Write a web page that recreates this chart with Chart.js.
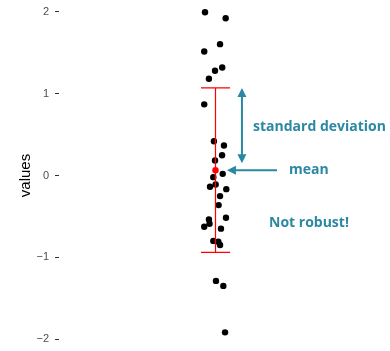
<!DOCTYPE html>
<html>
<head>
<meta charset="utf-8">
<script src="https://cdn.jsdelivr.net/npm/chart.js@4"></script>
<style>
  html, body { margin: 0; padding: 0; background: #fff; }
  #wrap { width: 390px; height: 351px; }
</style>
</head>
<body>
<div id="wrap"><canvas id="c"></canvas></div>
<script>
// strip of values with mean +/- sd bar

// --- data ---
const pointValues = [1.996, 1.923, 1.606, 1.516, 1.321, 1.280, 1.183, 0.870,
  0.418, 0.366, 0.248, 0.183, 0.020, -0.020, -0.110, -0.138, -0.167, -0.252,
  -0.362, -0.516, -0.537, -0.590, -0.626, -0.650, -0.800, -0.810, -0.850,
  -1.289, -1.350, -1.918];
const pointJitter = [-0.067, 0.065, 0.029, -0.072, 0.043, -0.003, -0.042, -0.072,
  -0.010, 0.054, 0.042, -0.003, 0.046, -0.014, 0.001, -0.035, 0.069, 0.029,
  0.020, 0.067, -0.042, -0.038, -0.072, 0.035, -0.014, 0.018, 0.029,
  0.003, 0.050, 0.061];
const meanValue = 0.065;
const sdValue = 1.006;
const yTicks = [-2, -1, 0, 1, 2];
const yTitle = 'values';
const noteSd = 'standard deviation';
const noteMean = 'mean';
const noteRobust = 'Not robust!';

const teal = '#2b88a3';

// --- helpers ---
function minusSign(v) {
  return String(v).replace('-', '\u2212');
}

// red bar, drawn right after the black points so it sits on top of them
const errorBar = {
  id: 'errorBar',
  afterDatasetDraw(chart, args) {
    if (args.index !== 1) return;
    const { ctx, scales: { x, y } } = chart;
    const cx = x.getPixelForValue(0);
    const half = x.getPixelForValue(0.093) - cx;
    const top = y.getPixelForValue(meanValue + sdValue);
    const bot = y.getPixelForValue(meanValue - sdValue);
    ctx.save();
    ctx.strokeStyle = '#ff0000';
    ctx.lineWidth = 1.2;
    ctx.beginPath();
    ctx.moveTo(cx, top); ctx.lineTo(cx, bot);
    ctx.moveTo(cx - half, top); ctx.lineTo(cx + half, top);
    ctx.moveTo(cx - half, bot); ctx.lineTo(cx + half, bot);
    ctx.stroke();
    ctx.restore();
  }
};

function arrowHead(ctx, x, y, dx, dy) {
  // tip at (x, y), pointing along (dx, dy)
  const len = 9, w = 4.5;
  const px = -dy, py = dx;
  ctx.beginPath();
  ctx.moveTo(x, y);
  ctx.lineTo(x - dx * len + px * w, y - dy * len + py * w);
  ctx.lineTo(x - dx * len - px * w, y - dy * len - py * w);
  ctx.closePath();
  ctx.fill();
}

const notes = {
  id: 'notes',
  afterDraw(chart) {
    const { ctx, scales: { x, y } } = chart;
    ctx.save();
    ctx.strokeStyle = teal;
    ctx.fillStyle = teal;
    ctx.lineWidth = 2;

    // double arrow for the sd
    const ax = x.getPixelForValue(0.169);
    const aTop = y.getPixelForValue(meanValue + sdValue);
    const aBot = y.getPixelForValue(0.15);
    ctx.beginPath();
    ctx.moveTo(ax, aTop + 8); ctx.lineTo(ax, aBot - 8);
    ctx.stroke();
    arrowHead(ctx, ax, aTop, 0, -1);
    arrowHead(ctx, ax, aBot, 0, 1);

    // arrow to the mean
    const my = y.getPixelForValue(meanValue);
    const mFrom = x.getPixelForValue(0.393);
    const mTip = x.getPixelForValue(0.073);
    ctx.beginPath();
    ctx.moveTo(mFrom, my); ctx.lineTo(mTip + 8, my);
    ctx.stroke();
    arrowHead(ctx, mTip, my, -1, 0);

    ctx.font = 'bold 14px "Open Sans"';
    ctx.textBaseline = 'middle';
    ctx.textAlign = 'left';
    ctx.fillText(noteSd, x.getPixelForValue(0.24), y.getPixelForValue(0.59));
    ctx.fillText(noteMean, x.getPixelForValue(0.47), y.getPixelForValue(0.07));
    ctx.fillText(noteRobust, x.getPixelForValue(0.342), y.getPixelForValue(-0.585));
    ctx.restore();
  }
};

const ctx = document.getElementById('c').getContext('2d');
new Chart(ctx, {
  type: 'scatter',
  data: {
    datasets: [
      {
        label: 'mean',
        data: [{ x: 0, y: meanValue }],
        backgroundColor: '#ff0000',
        borderWidth: 0,
        pointRadius: 3.2,
        clip: false
      },
      {
        label: 'values',
        data: pointValues.map((v, i) => ({ x: pointJitter[i], y: v })),
        backgroundColor: '#000',
        borderWidth: 0,
        pointRadius: 3.2,
        clip: false
      }
    ]
  },
  options: {
    responsive: true,
    maintainAspectRatio: false,
    animation: false,
    events: [],
    layout: { autoPadding: false, padding: { left: 0, right: 18, top: 0, bottom: 0 } },
    plugins: { legend: { display: false }, tooltip: { enabled: false } },
    scales: {
      x: { display: false, min: -1, max: 1 },
      y: {
        min: -2.146,
        max: 2.146,
        afterBuildTicks: s => { s.ticks = yTicks.map(v => ({ value: v })); },
        afterFit: s => { s.width = 59; s.paddingTop = 0; s.paddingBottom = 0; },
        border: { display: false },
        grid: { drawOnChartArea: false, drawTicks: true, tickLength: 4, tickColor: '#333' },
        ticks: {
          padding: 6,
          color: '#4d4d4d',
          font: { family: 'Liberation Sans', size: 11 },
          callback: v => minusSign(v)
        },
        title: {
          display: true,
          text: yTitle,
          color: '#000',
          font: { family: 'Liberation Sans', size: 15 },
          padding: { top: 17, bottom: 0 }
        }
      }
    }
  },
  plugins: [errorBar, notes]
});
</script>
</body>
</html>
